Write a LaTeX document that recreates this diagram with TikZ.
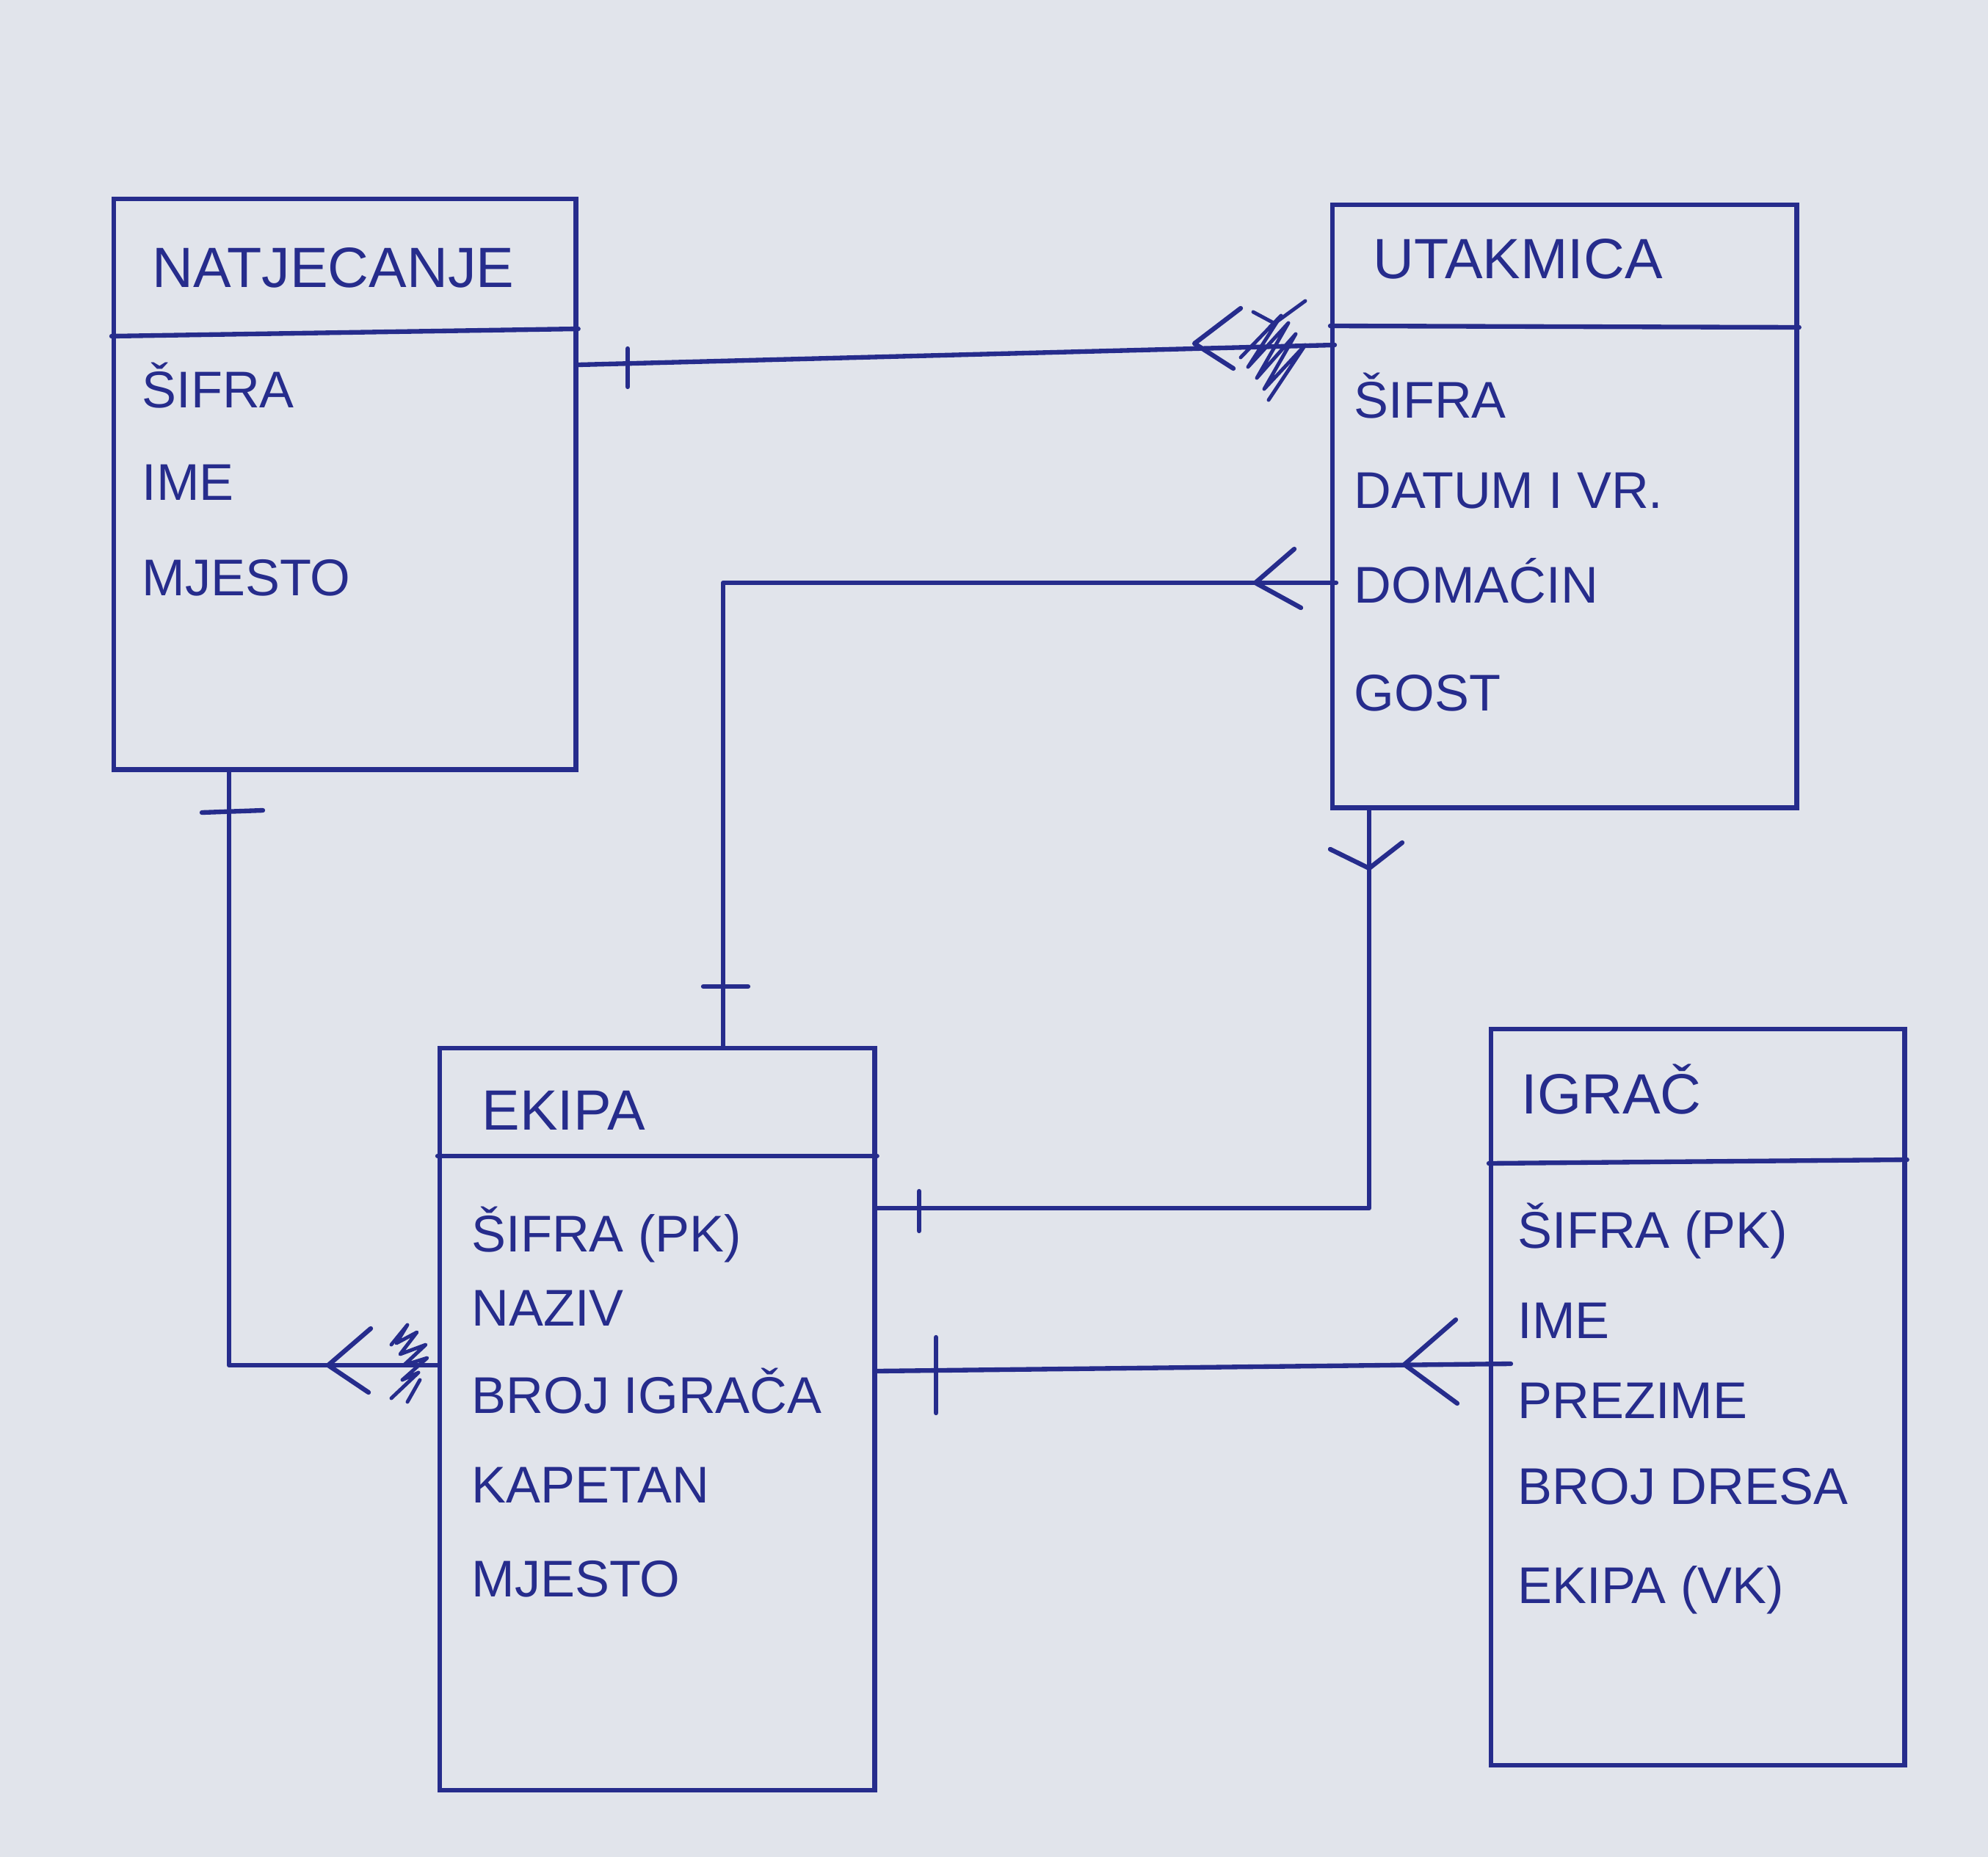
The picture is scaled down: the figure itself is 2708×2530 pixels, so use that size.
\documentclass[tikz,border=0pt]{standalone}
\usepackage{fontspec}
\setmainfont{Liberation Sans}
\usetikzlibrary{calc}
\definecolor{ink}{RGB}{38,44,140}
\definecolor{paper}{RGB}{225,228,235}

\tikzset{
  entity/.style={draw=ink, line width=1.8pt, anchor=north west, inner sep=0pt},
  entitytitle/.style={anchor=base west, inner sep=0pt, text=ink, font=\fontsize{22}{26}\selectfont},
  attr/.style={anchor=base west, inner sep=0pt, text=ink, font=\fontsize{20}{24}\selectfont},
  rel/.style={draw=ink, line width=1.8pt, line cap=round, line join=round},
}

\begin{document}
\begin{tikzpicture}[x=0.01cm, y=-0.01cm]
\fill[paper] (0,0) rectangle (2708,2530);
\useasboundingbox (0,0) rectangle (2708,2530);

% entities
\node[entity, minimum width=6.29cm, minimum height=7.77cm] (natj) at (152,268) {};
\node[entity, minimum width=6.32cm, minimum height=8.21cm] (utak) at (1812,276) {};
\node[entity, minimum width=5.92cm, minimum height=10.10cm] (ekipa) at (596,1425) {};
\node[entity, minimum width=5.63cm, minimum height=10.02cm] (igrac) at (2028,1399) {};

% header lines
\draw[rel] ($(natj.north west)+(0,190)$) -- ($(natj.north east)+(0,180)$);
\draw[rel] ($(utak.north west)+(0,168)$) -- ($(utak.north east)+(0,170)$);
\draw[rel] ($(ekipa.north west)+(0,150)$) -- ($(ekipa.north east)+(0,150)$);
\draw[rel] ($(igrac.north west)+(0,186)$) -- ($(igrac.north east)+(0,181)$);

% NATJECANJE
\node[entitytitle] (natjT) at (207,391) {NATJECANJE};
\node[attr] (natjA1) at (193,555) {ŠIFRA};
\node[attr] (natjA2) at (193,681) {IME};
\node[attr] (natjA3) at (193,811) {MJESTO};

% UTAKMICA
\node[entitytitle] (utakT) at (1870,379) {UTAKMICA};
\node[attr] (utakA1) at (1844,569) {ŠIFRA};
\node[attr] (utakA2) at (1844,692) {DATUM I VR.};
\node[attr] (utakA3) at (1844,821) {DOMAĆIN};
\node[attr] (utakA4) at (1844,968) {GOST};

% EKIPA
\node[entitytitle] (ekipaT) at (656,1539) {EKIPA};
\node[attr] (ekipaA1) at (642,1705) {ŠIFRA (PK)};
\node[attr] (ekipaA2) at (642,1806) {NAZIV};
\node[attr] (ekipaA3) at (642,1925) {BROJ IGRAČA};
\node[attr] (ekipaA4) at (642,2047) {KAPETAN};
\node[attr] (ekipaA5) at (642,2175) {MJESTO};

% IGRAČ
\node[entitytitle] (igracT) at (2072,1517) {IGRAČ};
\node[attr] (igracA1) at (2067,1700) {ŠIFRA (PK)};
\node[attr] (igracA2) at (2067,1823) {IME};
\node[attr] (igracA3) at (2067,1932) {PREZIME};
\node[attr] (igracA4) at (2067,2049) {BROJ DRESA};
\node[attr] (igracA5) at (2067,2184) {EKIPA (VK)};

% natjecanje -- utakmica
\draw[rel] ($(natj.north east)+(0,229)$) -- ($(utak.north west)+(6,194)$);
\draw[rel] (855,475) -- (855,527);
\draw[rel] (1690,420) -- (1627,468) -- (1680,502);
\draw[rel, line width=1.4pt] (1690,487) -- (1745,430) -- (1700,500) -- (1755,440) -- (1712,515)
  -- (1765,455) -- (1722,530) -- (1778,470) -- (1728,545);
\draw[rel, line width=1.4pt] (1730,445) -- (1778,410) (1707,425) -- (1735,440);

% domacin -- ekipa
\draw[rel] ($(utak.north west)+(8,518)$) -| ($(ekipa.north west)+(389,0)$);
\draw[rel] (1763,748) -- (1710,794) -- (1772,828);
\draw[rel] (958,1344) -- (1019,1344);

% utakmica -- ekipa
\draw[rel] ($(utak.south west)+(53,0)$) |- ($(ekipa.north east)+(0,221)$);
\draw[rel] (1812,1157) -- (1865,1183) -- (1910,1148);
\draw[rel] (1252,1623) -- (1252,1677);

% natjecanje -- ekipa
\draw[rel] ($(natj.south west)+(160,0)$) |- ($(ekipa.north west)+(0,435)$);
\draw[rel] (275,1107) -- (358,1104);
\draw[rel] (505,1810) -- (447,1860) -- (502,1897);
\draw[rel, line width=1.4pt] (533,1832) -- (555,1805) -- (540,1830) -- (568,1815) -- (545,1845)
  -- (580,1832) -- (550,1860) -- (582,1850) -- (548,1880) -- (570,1870) -- (533,1905);
\draw[rel, line width=1.4pt] (555,1910) -- (572,1880);

% igrac -- ekipa
\draw[rel] ($(igrac.north west)+(30,459)$) -- ($(ekipa.north east)+(0,443)$);
\draw[rel] (1983,1798) -- (1913,1859) -- (1985,1912);
\draw[rel] (1275,1822) -- (1275,1925);
\end{tikzpicture}
\end{document}
